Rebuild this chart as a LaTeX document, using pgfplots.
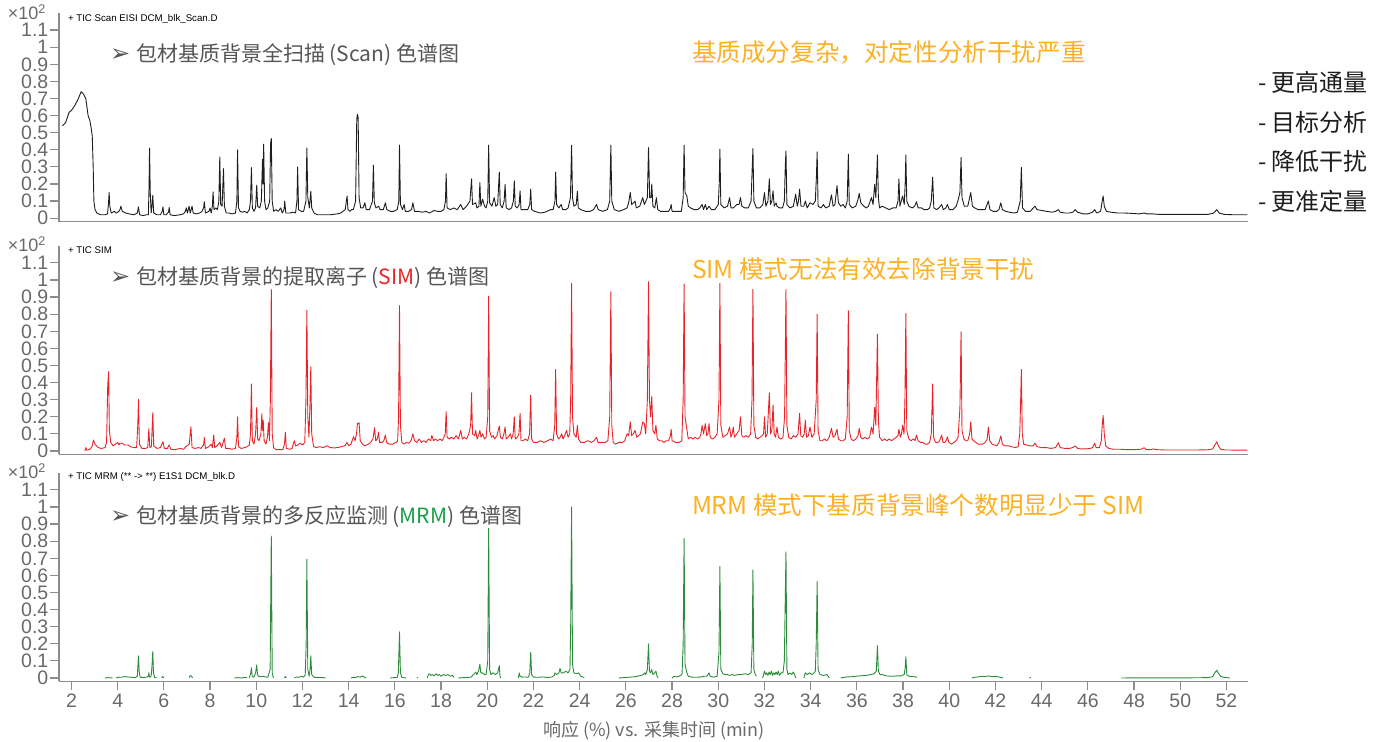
\documentclass[border=0pt]{standalone}
\usepackage{pgfplots}
\pgfplotsset{compat=1.18}
\usepackage{fontspec}
\setmainfont{Liberation Sans}
\newfontfamily\cjk{Noto Sans CJK SC}
\newfontfamily\dejavu{DejaVu Sans}
\definecolor{axgray}{RGB}{140,140,140}
\definecolor{tickgray}{RGB}{105,105,105}
\definecolor{descgray}{RGB}{85,85,85}
\definecolor{orng}{RGB}{252,176,36}
\definecolor{simred}{RGB}{232,36,42}
\definecolor{mrmgreen}{RGB}{44,140,60}
\definecolor{txtgreen}{RGB}{20,160,70}
\definecolor{scanblack}{RGB}{30,30,30}
\pgfplotsset{
  panel/.style={
    scale only axis, width=1189pt, height=208.6pt,
    xmin=1.46, xmax=52.93, ymin=-0.02, ymax=1.2,
    axis x line*=bottom, axis y line*=left,
    axis line style={-,draw=axgray,line width=1.6pt},
    ytick={0,0.1,0.2,0.3,0.4,0.5,0.6,0.7,0.8,0.9,1,1.1},
    yticklabels={0,0.1,0.2,0.3,0.4,0.5,0.6,0.7,0.8,0.9,1,1.1},
    tick align=outside, major tick length=9pt,
    tick style={draw=axgray,line width=1.2pt},
    ticklabel style={font=\fontsize{19.5}{21}\selectfont, text=tickgray},
    yticklabel style={inner xsep=1.5pt, inner ysep=0pt},
    unbounded coords=jump,
    clip=false,
  },
  trace/.style={line width=0.9pt, line join=round},
}
\begin{document}
\begin{tikzpicture}
\useasboundingbox (0pt,0pt) rectangle (1385pt,742pt);
% ---------------- Panel 1: Scan ----------------
\begin{axis}[panel, at={(59pt,520.4pt)}, anchor=south west, xtick=\empty]
\addplot[trace, scanblack] coordinates {
(1.61,0.54)(1.68,0.55)(1.75,0.56)(1.9,0.62)(2.0,0.63)(2.15,0.66)(2.3,0.70)(2.42,0.74)(2.5,0.73)(2.62,0.70)(2.72,0.60)(2.8,0.57)(2.86,0.52)(2.9,0.48)(2.94,0.30)(2.97,0.10)(3.02,0.05)(3.1,0.03)(3.25,0.02)(3.45,0.02)
(3.56,0.025)(3.6,0.08)(3.63,0.15)(3.66,0.07)(3.72,0.03)(3.85,0.04)(3.95,0.03)(4.05,0.04)(4.1,0.05)(4.14,0.07)(4.2,0.04)(4.35,0.03)(4.5,0.025)(4.7,0.02)(4.85,0.03)(4.9,0.066)(4.95,0.02)(5.1,0.015)(5.25,0.02)
(5.33,0.02)(5.36,0.2)(5.38,0.41)(5.41,0.15)(5.45,0.03)(5.49,0.08)(5.52,0.134)(5.56,0.03)(5.7,0.02)(5.85,0.02)(5.93,0.04)(5.96,0.066)(6.0,0.02)(6.1,0.02)(6.2,0.035)(6.23,0.063)(6.27,0.02)(6.45,0.015)(6.7,0.02)(6.85,0.025)(6.93,0.04)(6.97,0.06)(7.02,0.03)(7.09,0.07)(7.14,0.03)(7.22,0.07)(7.27,0.03)(7.4,0.025)(7.55,0.03)(7.65,0.04)(7.72,0.06)(7.75,0.096)(7.8,0.03)(7.95,0.04)(8.0,0.06)(8.05,0.03)(8.1,0.07)(8.13,0.154)(8.17,0.05)(8.25,0.06)(8.32,0.05)(8.38,0.1)(8.42,0.358)(8.46,0.08)(8.52,0.07)(8.58,0.29)(8.62,0.07)(8.7,0.03)(8.82,0.03)(8.95,0.025)(9.1,0.03)(9.16,0.1)(9.19,0.40)(9.23,0.06)(9.3,0.04)(9.4,0.035)(9.5,0.04)(9.6,0.03)(9.7,0.05)(9.75,0.1)(9.79,0.296)(9.83,0.06)(9.9,0.04)(9.97,0.06)(10.02,0.193)(10.06,0.07)(10.15,0.06)(10.22,0.1)(10.27,0.345)(10.3,0.2)(10.32,0.433)(10.36,0.1)(10.42,0.05)(10.5,0.06)(10.58,0.1)(10.62,0.44)(10.65,0.466)(10.69,0.1)(10.75,0.04)(10.85,0.05)(10.95,0.04)(11.06,0.06)(11.12,0.03)(11.2,0.05)(11.23,0.10)(11.28,0.03)(11.45,0.03)(11.6,0.035)(11.7,0.03)(11.76,0.1)(11.79,0.30)(11.83,0.05)(11.95,0.04)(12.05,0.04)(12.15,0.1)(12.19,0.41)(12.23,0.12)(12.3,0.06)(12.36,0.157)(12.4,0.06)(12.5,0.03)(12.65,0.02)(12.9,0.02)(13.2,0.02)(13.5,0.025)(13.65,0.03)(13.75,0.04)(13.85,0.05)(13.93,0.13)(13.97,0.05)(14.05,0.04)(14.13,0.05)(14.2,0.05)(14.3,0.1)(14.35,0.58)(14.38,0.608)(14.41,0.59)(14.45,0.12)(14.52,0.06)(14.62,0.06)(14.7,0.09)(14.76,0.05)(14.9,0.05)(15.03,0.1)(15.07,0.31)(15.11,0.09)(15.18,0.06)(15.3,0.07)(15.36,0.05)(15.5,0.05)(15.59,0.09)(15.65,0.05)(15.8,0.04)(15.95,0.04)(16.1,0.05)(16.17,0.1)(16.2,0.427)(16.24,0.08)(16.33,0.05)(16.4,0.08)(16.45,0.04)(16.6,0.04)(16.72,0.05)(16.78,0.09)(16.85,0.04)(17.0,0.04)(17.2,0.035)(17.35,0.04)(17.5,0.03)(17.7,0.045)(17.85,0.04)(18.0,0.04)(18.12,0.05)(18.19,0.1)(18.22,0.26)(18.26,0.06)(18.4,0.05)(18.55,0.06)(18.7,0.05)(18.85,0.08)(18.95,0.05)(19.1,0.07)(19.25,0.1)(19.32,0.23)(19.36,0.08)(19.5,0.09)(19.55,0.06)(19.64,0.07)(19.68,0.208)(19.72,0.07)(19.8,0.11)(19.88,0.07)(19.95,0.06)(20.02,0.1)(20.06,0.427)(20.1,0.09)(20.2,0.07)(20.3,0.12)(20.37,0.07)(20.45,0.08)(20.52,0.27)(20.56,0.08)(20.65,0.06)(20.73,0.1)(20.77,0.198)(20.82,0.06)(20.95,0.05)(21.05,0.06)(21.13,0.1)(21.17,0.218)(21.21,0.07)(21.3,0.06)(21.38,0.08)(21.42,0.16)(21.46,0.05)(21.6,0.05)(21.75,0.05)(21.84,0.08)(21.88,0.17)(21.92,0.05)(22.05,0.04)(22.3,0.03)(22.5,0.035)(22.74,0.05)(22.85,0.05)(22.93,0.1)(22.96,0.27)(23.0,0.08)(23.1,0.06)(23.2,0.08)(23.26,0.05)(23.4,0.05)(23.5,0.06)(23.6,0.12)(23.65,0.427)(23.69,0.12)(23.75,0.07)(23.85,0.08)(23.9,0.157)(23.94,0.06)(24.05,0.05)(24.25,0.04)(24.45,0.04)(24.6,0.05)(24.73,0.08)(24.8,0.05)(25.0,0.04)(25.2,0.05)(25.3,0.1)(25.35,0.427)(25.39,0.1)(25.5,0.05)(25.7,0.04)(25.9,0.05)(26.05,0.06)(26.12,0.09)(26.19,0.15)(26.25,0.08)(26.4,0.1)(26.45,0.06)(26.6,0.07)(26.73,0.12)(26.8,0.08)(26.93,0.12)(26.98,0.413)(27.03,0.12)(27.09,0.12)(27.12,0.20)(27.17,0.07)(27.25,0.06)(27.32,0.12)(27.38,0.05)(27.5,0.04)(27.7,0.04)(27.85,0.04)(27.93,0.06)(27.96,0.08)(28.0,0.04)(28.2,0.04)(28.4,0.04)(28.48,0.12)(28.52,0.427)(28.56,0.15)(28.64,0.13)(28.7,0.07)(28.8,0.06)(28.95,0.05)(29.1,0.05)(29.2,0.06)(29.3,0.08)(29.36,0.05)(29.44,0.08)(29.5,0.05)(29.6,0.07)(29.7,0.05)(29.85,0.05)(30.0,0.08)(30.04,0.2)(30.07,0.403)(30.11,0.08)(30.25,0.06)(30.4,0.07)(30.49,0.12)(30.55,0.06)(30.65,0.06)(30.8,0.08)(30.9,0.08)(30.96,0.12)(31.02,0.07)(31.15,0.06)(31.3,0.06)(31.42,0.1)(31.47,0.3)(31.5,0.407)(31.54,0.1)(31.65,0.06)(31.8,0.06)(31.93,0.08)(32.0,0.15)(32.06,0.07)(32.15,0.1)(32.21,0.23)(32.26,0.08)(32.32,0.1)(32.37,0.16)(32.42,0.07)(32.5,0.09)(32.54,0.07)(32.65,0.06)(32.78,0.06)(32.86,0.1)(32.9,0.3)(32.93,0.393)(32.97,0.08)(33.1,0.06)(33.25,0.07)(33.35,0.14)(33.42,0.07)(33.47,0.1)(33.52,0.17)(33.58,0.07)(33.7,0.07)(33.77,0.10)(33.85,0.06)(33.97,0.09)(34.1,0.08)(34.2,0.1)(34.25,0.25)(34.28,0.388)(34.32,0.07)(34.45,0.06)(34.55,0.08)(34.65,0.06)(34.8,0.07)(34.9,0.136)(34.97,0.07)(35.05,0.08)(35.14,0.19)(35.2,0.09)(35.3,0.07)(35.4,0.08)(35.5,0.06)(35.58,0.1)(35.63,0.375)(35.67,0.08)(35.8,0.06)(35.95,0.07)(36.05,0.11)(36.1,0.145)(36.17,0.09)(36.3,0.07)(36.4,0.06)(36.5,0.07)(36.63,0.12)(36.7,0.08)(36.77,0.198)(36.82,0.12)(36.89,0.37)(36.93,0.12)(36.98,0.06)(37.1,0.07)(37.25,0.06)(37.4,0.05)(37.55,0.06)(37.7,0.06)(37.78,0.1)(37.82,0.23)(37.86,0.07)(37.98,0.13)(38.05,0.08)(38.09,0.2)(38.12,0.37)(38.16,0.1)(38.25,0.07)(38.4,0.06)(38.5,0.07)(38.58,0.096)(38.65,0.06)(38.8,0.06)(38.9,0.05)(39.05,0.05)(39.15,0.06)(39.22,0.1)(39.28,0.24)(39.33,0.06)(39.45,0.05)(39.55,0.06)(39.67,0.08)(39.74,0.05)(39.85,0.06)(39.92,0.08)(40.0,0.05)(40.15,0.05)(40.3,0.07)(40.39,0.11)(40.46,0.15)(40.51,0.355)(40.55,0.12)(40.65,0.07)(40.8,0.07)(40.93,0.15)(41.0,0.07)(41.1,0.06)(41.25,0.05)(41.4,0.05)(41.55,0.05)(41.69,0.10)(41.76,0.05)(41.9,0.04)(42.05,0.04)(42.15,0.05)(42.23,0.09)(42.3,0.05)(42.45,0.04)(42.6,0.035)(42.8,0.03)(42.95,0.035)(43.07,0.1)(43.12,0.296)(43.17,0.06)(43.3,0.04)(43.5,0.04)(43.71,0.07)(43.8,0.05)(44.0,0.045)(44.2,0.04)(44.45,0.035)(44.6,0.04)(44.72,0.05)(44.8,0.035)(45.0,0.03)(45.2,0.03)(45.35,0.035)(45.45,0.05)(45.55,0.035)(45.8,0.025)(46.0,0.025)(46.2,0.035)(46.29,0.05)(46.38,0.03)(46.55,0.04)(46.62,0.1)(46.66,0.13)(46.71,0.07)(46.8,0.04)(47.0,0.035)(47.3,0.03)(47.6,0.03)(47.9,0.028)(48.2,0.025)(48.44,0.03)(48.55,0.025)(48.8,0.025)(49.1,0.022)(49.5,0.022)(50.0,0.022)(50.5,0.022)(50.9,0.022)(51.2,0.022)(51.45,0.03)(51.58,0.05)(51.68,0.03)(51.9,0.022)(52.3,0.02)(52.9,0.02)
};
\end{axis}
% ---------------- Panel 2: SIM ----------------
\begin{axis}[panel, at={(59pt,287.6pt)}, anchor=south west, xtick=\empty]
\addplot[trace, simred] coordinates {
(2.58,0.0)(2.62,0.02)(2.66,0.005)(2.8,0.01)(2.9,0.03)(2.95,0.064)(3.02,0.04)(3.15,0.02)(3.3,0.015)(3.45,0.02)(3.52,0.05)(3.57,0.385)(3.61,0.464)(3.64,0.12)(3.7,0.05)(3.8,0.03)(3.9,0.04)(4.0,0.05)(4.05,0.035)(4.1,0.045)(4.2,0.045)(4.3,0.035)(4.45,0.035)(4.55,0.025)(4.7,0.02)(4.82,0.02)(4.87,0.15)(4.90,0.302)(4.94,0.04)(5.05,0.015)(5.2,0.015)(5.3,0.02)(5.35,0.13)(5.39,0.02)(5.46,0.025)(5.52,0.224)(5.56,0.03)(5.7,0.015)(5.85,0.02)(5.96,0.054)(6.02,0.015)(6.15,0.015)(6.23,0.035)(6.3,0.01)(6.5,0.008)(6.7,0.015)(6.85,0.01)(6.95,0.025)(7.05,0.035)(7.1,0.04)(7.17,0.142)(7.22,0.02)(7.35,0.015)(7.5,0.02)(7.6,0.015)(7.72,0.035)(7.75,0.078)(7.8,0.015)(7.95,0.025)(8.05,0.04)(8.1,0.02)(8.16,0.093)(8.2,0.02)(8.3,0.03)(8.42,0.05)(8.5,0.02)(8.62,0.075)(8.67,0.015)(8.8,0.015)(8.95,0.01)(9.1,0.015)(9.16,0.08)(9.19,0.2)(9.23,0.025)(9.35,0.015)(9.5,0.02)(9.6,0.025)(9.7,0.035)(9.75,0.1)(9.79,0.392)(9.83,0.06)(9.9,0.04)(9.97,0.1)(10.02,0.255)(10.06,0.07)(10.12,0.06)(10.2,0.1)(10.24,0.217)(10.27,0.12)(10.3,0.18)(10.34,0.06)(10.42,0.04)(10.48,0.08)(10.53,0.166)(10.57,0.06)(10.61,0.3)(10.65,0.945)(10.69,0.1)(10.75,0.02)(10.85,0.008)(11.0,0.008)(11.15,0.008)(11.22,0.04)(11.26,0.11)(11.3,0.015)(11.45,0.01)(11.55,0.015)(11.6,0.04)(11.65,0.06)(11.7,0.03)(11.8,0.035)(11.9,0.045)(12.0,0.035)(12.1,0.05)(12.15,0.3)(12.19,0.824)(12.23,0.2)(12.28,0.08)(12.33,0.3)(12.36,0.493)(12.4,0.1)(12.48,0.025)(12.6,0.02)(12.75,0.025)(12.9,0.02)(13.05,0.03)(13.2,0.02)(13.4,0.018)(13.6,0.022)(13.75,0.028)(13.85,0.032)(13.93,0.05)(14.0,0.03)(14.1,0.04)(14.21,0.084)(14.28,0.06)(14.34,0.1)(14.38,0.162)(14.42,0.16)(14.45,0.165)(14.5,0.06)(14.6,0.04)(14.7,0.03)(14.85,0.04)(14.95,0.05)(15.05,0.07)(15.12,0.136)(15.17,0.06)(15.24,0.07)(15.29,0.11)(15.34,0.05)(15.45,0.05)(15.52,0.06)(15.59,0.093)(15.64,0.05)(15.75,0.04)(15.9,0.04)(16.05,0.05)(16.12,0.06)(16.16,0.2)(16.2,0.85)(16.24,0.15)(16.3,0.05)(16.4,0.04)(16.5,0.05)(16.6,0.045)(16.7,0.06)(16.78,0.1)(16.85,0.06)(16.95,0.05)(17.05,0.07)(17.15,0.05)(17.25,0.06)(17.35,0.05)(17.45,0.07)(17.55,0.06)(17.6,0.09)(17.67,0.06)(17.75,0.07)(17.85,0.06)(17.95,0.07)(18.05,0.06)(18.12,0.08)(18.18,0.1)(18.22,0.23)(18.26,0.08)(18.35,0.07)(18.45,0.08)(18.55,0.07)(18.65,0.09)(18.75,0.07)(18.85,0.12)(18.92,0.07)(19.0,0.08)(19.1,0.07)(19.2,0.1)(19.28,0.15)(19.32,0.341)(19.36,0.1)(19.45,0.09)(19.5,0.12)(19.56,0.07)(19.62,0.09)(19.68,0.12)(19.73,0.08)(19.8,0.1)(19.88,0.07)(19.95,0.08)(20.02,0.2)(20.06,0.906)(20.1,0.12)(20.18,0.08)(20.25,0.09)(20.32,0.07)(20.42,0.09)(20.52,0.146)(20.57,0.08)(20.65,0.07)(20.72,0.1)(20.77,0.14)(20.82,0.07)(20.9,0.08)(21.0,0.1)(21.05,0.07)(21.12,0.1)(21.17,0.2)(21.21,0.07)(21.3,0.08)(21.37,0.1)(21.42,0.22)(21.46,0.06)(21.55,0.06)(21.65,0.07)(21.75,0.06)(21.83,0.1)(21.88,0.327)(21.92,0.07)(22.0,0.05)(22.15,0.05)(22.3,0.06)(22.45,0.05)(22.6,0.06)(22.75,0.07)(22.85,0.06)(22.92,0.15)(22.96,0.477)(23.0,0.1)(23.08,0.07)(23.15,0.08)(23.22,0.1)(23.28,0.07)(23.35,0.09)(23.43,0.12)(23.5,0.08)(23.57,0.1)(23.61,0.3)(23.65,0.98)(23.69,0.2)(23.75,0.1)(23.85,0.08)(23.9,0.15)(23.95,0.07)(24.05,0.05)(24.2,0.05)(24.35,0.06)(24.5,0.05)(24.62,0.06)(24.73,0.08)(24.8,0.05)(24.95,0.05)(25.1,0.05)(25.22,0.06)(25.3,0.2)(25.35,0.932)(25.39,0.15)(25.45,0.05)(25.55,0.04)(25.7,0.05)(25.85,0.05)(25.95,0.06)(26.05,0.1)(26.12,0.09)(26.19,0.17)(26.25,0.09)(26.32,0.1)(26.4,0.12)(26.47,0.08)(26.55,0.09)(26.63,0.1)(26.73,0.17)(26.8,0.16)(26.86,0.1)(26.93,0.3)(26.98,0.99)(27.02,0.3)(27.07,0.2)(27.12,0.32)(27.17,0.12)(27.25,0.1)(27.3,0.15)(27.36,0.07)(27.45,0.06)(27.55,0.06)(27.65,0.05)(27.75,0.06)(27.85,0.06)(27.93,0.09)(27.96,0.127)(28.0,0.06)(28.15,0.05)(28.3,0.05)(28.42,0.06)(28.48,0.3)(28.52,0.977)(28.56,0.2)(28.64,0.127)(28.7,0.07)(28.8,0.08)(28.9,0.07)(29.0,0.08)(29.1,0.07)(29.2,0.08)(29.25,0.1)(29.3,0.15)(29.36,0.1)(29.44,0.16)(29.5,0.09)(29.55,0.1)(29.6,0.16)(29.65,0.08)(29.75,0.07)(29.85,0.08)(29.95,0.1)(30.03,0.3)(30.07,0.98)(30.11,0.15)(30.2,0.08)(30.3,0.09)(30.4,0.1)(30.49,0.14)(30.55,0.08)(30.6,0.1)(30.65,0.14)(30.7,0.08)(30.8,0.1)(30.9,0.12)(30.96,0.2)(31.02,0.09)(31.1,0.08)(31.2,0.09)(31.3,0.08)(31.4,0.1)(31.46,0.3)(31.5,0.945)(31.54,0.15)(31.62,0.08)(31.7,0.07)(31.8,0.08)(31.9,0.09)(31.96,0.1)(32.0,0.2)(32.05,0.08)(32.12,0.1)(32.21,0.34)(32.26,0.1)(32.32,0.12)(32.37,0.27)(32.42,0.1)(32.48,0.08)(32.54,0.14)(32.6,0.08)(32.7,0.07)(32.8,0.08)(32.87,0.2)(32.9,0.56)(32.93,0.945)(32.97,0.15)(33.05,0.08)(33.15,0.07)(33.25,0.09)(33.35,0.08)(33.45,0.1)(33.52,0.22)(33.57,0.09)(33.65,0.08)(33.72,0.1)(33.77,0.18)(33.82,0.08)(33.9,0.09)(33.97,0.14)(34.05,0.08)(34.15,0.1)(34.24,0.3)(34.28,0.8)(34.32,0.12)(34.4,0.06)(34.5,0.06)(34.6,0.07)(34.7,0.06)(34.8,0.08)(34.9,0.132)(34.97,0.08)(35.05,0.09)(35.14,0.127)(35.2,0.07)(35.3,0.06)(35.4,0.06)(35.5,0.07)(35.58,0.2)(35.63,0.82)(35.67,0.12)(35.75,0.07)(35.85,0.06)(35.95,0.07)(36.05,0.09)(36.1,0.132)(36.17,0.08)(36.25,0.07)(36.35,0.08)(36.45,0.07)(36.55,0.08)(36.63,0.14)(36.7,0.1)(36.77,0.255)(36.82,0.15)(36.89,0.684)(36.93,0.18)(36.98,0.08)(37.1,0.06)(37.2,0.07)(37.3,0.06)(37.4,0.07)(37.5,0.06)(37.6,0.07)(37.7,0.08)(37.78,0.09)(37.82,0.127)(37.88,0.08)(37.93,0.1)(37.98,0.15)(38.04,0.1)(38.08,0.3)(38.12,0.804)(38.16,0.12)(38.25,0.07)(38.35,0.06)(38.45,0.07)(38.52,0.06)(38.58,0.093)(38.65,0.06)(38.75,0.05)(38.85,0.05)(38.95,0.04)(39.05,0.04)(39.15,0.05)(39.22,0.1)(39.28,0.392)(39.32,0.08)(39.4,0.05)(39.5,0.05)(39.58,0.06)(39.67,0.093)(39.73,0.05)(39.8,0.05)(39.86,0.06)(39.92,0.083)(39.98,0.05)(40.1,0.04)(40.2,0.05)(40.3,0.06)(40.38,0.08)(40.46,0.25)(40.51,0.697)(40.55,0.12)(40.63,0.07)(40.72,0.06)(40.8,0.06)(40.88,0.1)(40.93,0.17)(40.98,0.07)(41.05,0.06)(41.15,0.05)(41.25,0.04)(41.35,0.04)(41.45,0.04)(41.55,0.05)(41.64,0.07)(41.69,0.14)(41.75,0.06)(41.85,0.04)(41.95,0.035)(42.05,0.03)(42.15,0.05)(42.23,0.088)(42.3,0.04)(42.4,0.03)(42.55,0.03)(42.7,0.025)(42.85,0.02)(42.98,0.025)(43.05,0.1)(43.09,0.3)(43.12,0.477)(43.16,0.1)(43.22,0.04)(43.35,0.035)(43.5,0.03)(43.62,0.03)(43.71,0.045)(43.8,0.025)(44.0,0.02)(44.2,0.02)(44.4,0.015)(44.6,0.02)(44.72,0.048)(44.8,0.02)(45.0,0.015)(45.2,0.015)(45.35,0.02)(45.45,0.03)(45.55,0.015)(45.7,0.012)(45.9,0.012)(46.1,0.015)(46.2,0.02)(46.29,0.045)(46.36,0.02)(46.5,0.02)(46.58,0.06)(46.62,0.15)(46.66,0.207)(46.71,0.1)(46.77,0.03)(46.9,0.015)(47.1,0.01)(47.4,0.01)(47.7,0.008)(48.0,0.008)(48.3,0.01)(48.44,0.019)(48.52,0.008)(48.7,0.008)(48.85,0.012)(48.95,0.008)(49.3,0.006)(49.8,0.006)(50.3,0.006)(50.8,0.006)(51.2,0.007)(51.4,0.012)(51.52,0.04)(51.58,0.054)(51.65,0.03)(51.75,0.01)(51.95,0.006)(52.4,0.005)(52.9,0.005)
};
\end{axis}
% ---------------- Panel 3: MRM ----------------
\begin{axis}[panel, at={(59pt,60.6pt)}, anchor=south west,
  xtick={2,4,6,8,10,12,14,16,18,20,22,24,26,28,30,32,34,36,38,40,42,44,46,48,50,52},
  xticklabels={2,4,6,8,10,12,14,16,18,20,22,24,26,28,30,32,34,36,38,40,42,44,46,48,50,52}]
\addplot[trace, mrmgreen] coordinates {
(3.45,0.0)(3.6,0.002)(3.78,0.0)(3.85,nan)
(3.93,0.0)(4.05,0.005)(4.15,0.004)(4.3,0.008)(4.45,0.006)(4.6,0.004)(4.75,0.002)(4.85,0.01)(4.88,0.08)(4.9,0.129)(4.93,0.04)(4.97,0.004)(5.1,0.003)(5.25,0.005)(5.32,0.01)(5.35,0.03)(5.38,0.005)(5.45,0.01)(5.49,0.08)(5.52,0.154)(5.55,0.03)(5.6,0.003)(5.68,0.002)(5.8,nan)
(5.9,0.0)(5.95,0.008)(6.0,0.0)(6.5,nan)
(7.1,0.002)(7.14,0.015)(7.2,0.01)(7.24,0.0)(8,nan)
(9.05,0.0)(9.2,0.002)(9.35,0.0)(9.5,0.003)(9.6,0.002)(9.65,nan)
(9.7,0.0)(9.76,0.03)(9.79,0.06)(9.82,0.01)(9.9,0.005)(9.97,0.03)(10.02,0.076)(10.05,0.02)(10.1,0.01)(10.2,0.008)(10.3,0.01)(10.4,0.006)(10.5,0.004)(10.6,0.05)(10.65,0.83)(10.69,0.03)(10.74,0.0)(11,nan)
(11.22,0.0)(11.26,0.008)(11.3,0.0)(11.5,nan)
(11.65,0.0)(11.75,0.006)(11.85,0.004)(11.95,0.01)(12.05,0.005)(12.12,0.02)(12.16,0.2)(12.19,0.694)(12.23,0.05)(12.29,0.01)(12.33,0.05)(12.36,0.13)(12.4,0.02)(12.5,0.004)(12.7,0.003)(12.9,0.002)(13.0,0.0)(13.5,nan)
(14.1,0.0)(14.2,0.004)(14.3,0.003)(14.4,0.008)(14.5,0.005)(14.6,0.012)(14.7,0.003)(14.75,0.0)(15,nan)
(15.8,0.0)(15.95,0.002)(16.1,0.003)(16.15,0.03)(16.2,0.27)(16.24,0.03)(16.3,0.003)(16.5,0.0)(16.7,nan)
(16.95,0.0)(17.0,0.003)(17.2,nan)
(17.4,0.0)(17.45,0.02)(17.5,0.025)(17.55,0.015)(17.62,0.02)(17.7,0.012)(17.78,0.025)(17.85,0.015)(17.92,0.02)(18.0,0.01)(18.1,0.02)(18.2,0.015)(18.3,0.02)(18.4,0.01)(18.5,0.015)(18.55,0.003)(18.65,nan)
(18.75,0.0)(18.95,0.002)(19.15,0.003)(19.3,0.005)(19.4,0.02)(19.5,0.034)(19.55,0.02)(19.62,0.04)(19.68,0.08)(19.72,0.03)(19.8,0.03)(19.88,0.02)(19.95,0.02)(20.02,0.1)(20.06,0.875)(20.1,0.05)(20.16,0.02)(20.25,0.03)(20.35,0.02)(20.45,0.03)(20.52,0.072)(20.55,0.01)(20.58,0.0)(21,nan)
(21.35,0.0)(21.38,0.03)(21.42,0.01)(21.5,0.005)(21.65,0.006)(21.78,0.004)(21.84,0.03)(21.88,0.15)(21.92,0.02)(22.0,0.005)(22.2,0.004)(22.4,0.006)(22.6,0.003)(22.8,0.006)(22.9,0.015)(22.93,0.03)(23.0,0.02)(23.1,0.03)(23.15,0.056)(23.2,0.03)(23.3,0.03)(23.4,0.04)(23.5,0.03)(23.58,0.05)(23.61,0.3)(23.65,1.0)(23.69,0.08)(23.75,0.03)(23.85,0.025)(23.95,0.03)(24.05,0.01)(24.2,0.003)(25,nan)
(25.7,0.0)(25.9,0.002)(26.1,0.004)(26.3,0.006)(26.5,0.01)(26.65,0.015)(26.75,0.02)(26.82,0.03)(26.86,0.02)(26.93,0.05)(26.98,0.2)(27.02,0.04)(27.07,0.03)(27.12,0.05)(27.17,0.02)(27.25,0.03)(27.3,0.04)(27.35,0.01)(27.4,0.002)(27.7,nan)
(27.99,0.0)(28.1,0.01)(28.2,0.006)(28.3,0.01)(28.43,0.02)(28.48,0.2)(28.52,0.816)(28.56,0.08)(28.64,0.03)(28.7,0.01)(28.85,0.005)(29.0,0.004)(29.2,0.005)(29.4,0.01)(29.5,0.01)(29.6,0.03)(29.65,0.01)(29.8,0.005)(29.95,0.01)(30.03,0.15)(30.07,0.652)(30.11,0.05)(30.2,0.025)(30.3,0.02)(30.4,0.02)(30.5,0.015)(30.6,0.02)(30.7,0.015)(30.85,0.02)(31.0,0.02)(31.15,0.025)(31.3,0.02)(31.42,0.03)(31.47,0.2)(31.5,0.632)(31.54,0.05)(31.6,0.02)(31.65,0.01)(31.8,nan)
(31.92,0.0)(31.96,0.02)(32.0,0.04)(32.05,0.02)(32.1,0.03)(32.15,0.015)(32.2,0.035)(32.25,0.02)(32.3,0.04)(32.35,0.015)(32.4,0.03)(32.45,0.02)(32.5,0.035)(32.55,0.02)(32.6,0.04)(32.65,0.015)(32.72,0.03)(32.8,0.03)(32.86,0.1)(32.9,0.466)(32.93,0.738)(32.97,0.05)(33.02,0.02)(33.1,0.03)(33.18,0.02)(33.25,0.035)(33.3,0.02)(33.36,0.0)(33.5,nan)
(33.7,0.0)(33.77,0.03)(33.85,0.02)(33.95,0.03)(34.05,0.02)(34.15,0.03)(34.2,0.04)(34.24,0.2)(34.28,0.564)(34.32,0.05)(34.4,0.02)(34.55,0.015)(34.7,0.02)(34.78,0.005)(34.8,0.0)(35,nan)
(35.3,0.0)(35.5,0.005)(35.8,0.008)(36.1,0.012)(36.4,0.015)(36.6,0.02)(36.75,0.025)(36.84,0.04)(36.89,0.189)(36.93,0.04)(37.0,0.02)(37.1,0.02)(37.2,0.015)(37.3,0.012)(37.5,0.01)(37.7,0.012)(37.9,0.012)(38.05,0.02)(38.09,0.06)(38.12,0.125)(38.16,0.02)(38.25,0.01)(38.45,0.008)(38.6,0.005)(39,nan)
(40.98,0.0)(41.1,0.004)(41.25,0.006)(41.4,0.01)(41.55,0.008)(41.7,0.012)(41.85,0.008)(42.0,0.01)(42.15,0.006)(42.33,0.0)(43,nan)
(43.47,0.0)(43.53,0.004)(44,nan)
(47.45,0.0)(48.5,0.001)(49.5,0.001)(50.5,0.001)(51.2,0.002)(51.4,0.008)(51.52,0.035)(51.58,0.045)(51.64,0.03)(51.75,0.01)(51.9,0.003)(52.15,0.0)
};
\end{axis}
% ---------------- Texts ----------------
\begin{scope}[every node/.style={inner sep=0pt, outer sep=0pt}]
% x10^2 labels
\node[anchor=east, text=tickgray, font=\fontsize{18}{20}\selectfont] at (46pt,730pt) {×10\textsuperscript{2}};
\node[anchor=east, text=tickgray, font=\fontsize{18}{20}\selectfont] at (46pt,498pt) {×10\textsuperscript{2}};
\node[anchor=east, text=tickgray, font=\fontsize{18}{20}\selectfont] at (46pt,271pt) {×10\textsuperscript{2}};
% trace titles
\node[anchor=west, font=\fontsize{9.7}{11}\selectfont] at (68pt,723pt) {+ TIC Scan EISI DCM\_blk\_Scan.D};
\node[anchor=west, font=\fontsize{9.7}{11}\selectfont] at (68pt,492pt) {+ TIC SIM};
\node[anchor=west, font=\fontsize{9.7}{11}\selectfont] at (68pt,265pt) {+ TIC MRM (** -> **) E1S1 DCM\_blk.D};
% descriptions
\node[anchor=west, text=descgray, font=\cjk\fontsize{21}{25}\selectfont] at (110pt,687pt) {{\dejavu\fontsize{24}{26}\selectfont ➢}\hspace{6pt}包材基质背景全扫描 (Scan) 色谱图};
\node[anchor=west, text=descgray, font=\cjk\fontsize{21}{25}\selectfont] at (110pt,464pt) {{\dejavu\fontsize{24}{26}\selectfont ➢}\hspace{6pt}包材基质背景的提取离子 (\textcolor{simred}{SIM}) 色谱图};
\node[anchor=west, text=descgray, font=\cjk\fontsize{21}{25}\selectfont] at (110pt,225pt) {{\dejavu\fontsize{24}{26}\selectfont ➢}\hspace{6pt}包材基质背景的多反应监测 (\textcolor{txtgreen}{MRM}) 色谱图};
% orange annotations
\node[anchor=west, text=orng, font=\cjk\fontsize{24.6}{28}\selectfont] at (692pt,690pt) {基质成分复杂，对定性分析干扰严重};
\node[anchor=west, text=orng, font=\cjk\fontsize{24.6}{28}\selectfont] at (692pt,473pt) {SIM 模式无法有效去除背景干扰};
\node[anchor=west, text=orng, font=\cjk\fontsize{24.6}{28}\selectfont] at (692pt,237pt) {MRM 模式下基质背景峰个数明显少于 SIM};
% right list
\node[anchor=west, text=scanblack, font=\cjk\fontsize{24}{28}\selectfont] at (1258pt,660pt) {- 更高通量};
\node[anchor=west, text=scanblack, font=\cjk\fontsize{24}{28}\selectfont] at (1258pt,620pt) {- 目标分析};
\node[anchor=west, text=scanblack, font=\cjk\fontsize{24}{28}\selectfont] at (1258pt,581pt) {- 降低干扰};
\node[anchor=west, text=scanblack, font=\cjk\fontsize{24}{28}\selectfont] at (1258pt,541pt) {- 更准定量};
% x label
\node[anchor=center, text=tickgray, font=\cjk\fontsize{18}{20}\selectfont] at (654pt,11pt) {响应 (\%) vs. 采集时间 (min)};
\end{scope}
\end{tikzpicture}
\end{document}
